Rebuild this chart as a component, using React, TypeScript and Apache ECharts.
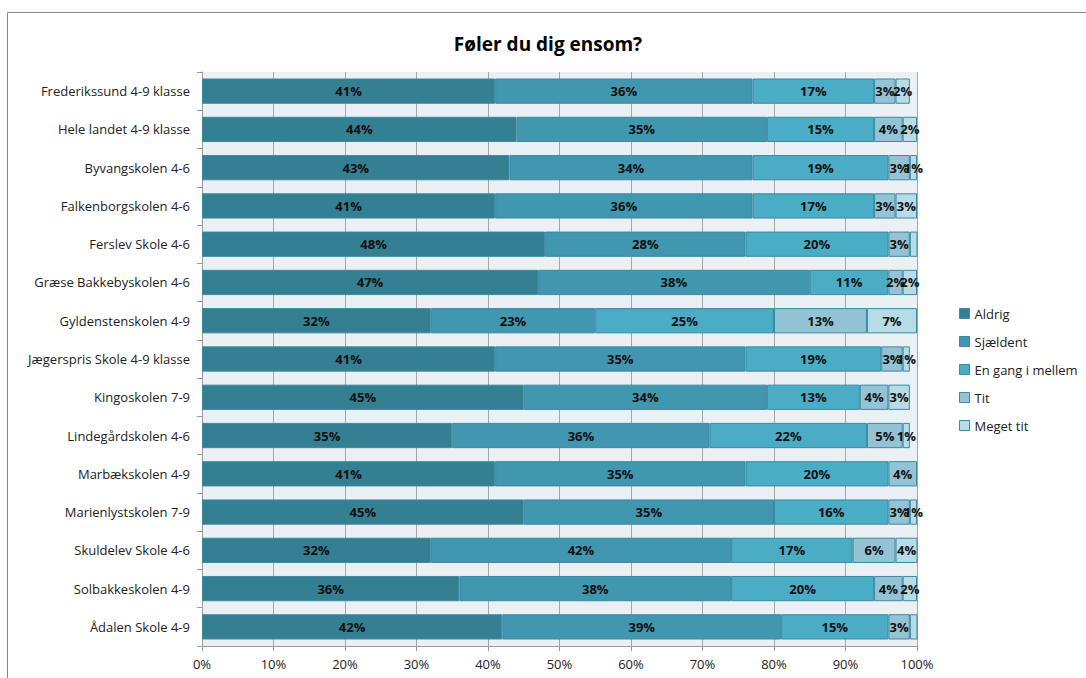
import React, { useEffect, useRef } from "react";
import * as echarts from "echarts";

const categories = [
  "Frederikssund 4-9 klasse",
  "Hele landet 4-9 klasse",
  "Byvangskolen 4-6",
  "Falkenborgskolen 4-6",
  "Ferslev Skole 4-6",
  "Græse Bakkebyskolen 4-6",
  "Gyldenstenskolen 4-9",
  "Jægerspris Skole 4-9 klasse",
  "Kingoskolen 7-9",
  "Lindegårdskolen 4-6",
  "Marbækskolen 4-9",
  "Marienlystskolen 7-9",
  "Skuldelev Skole 4-6",
  "Solbakkeskolen 4-9",
  "Ådalen Skole 4-9",
];

const seriesNames = ["Aldrig", "Sjældent", "En gang i mellem", "Tit", "Meget tit"];

const aldrig = [41, 44, 43, 41, 48, 47, 32, 41, 45, 35, 41, 45, 32, 36, 42];
const sjaeldent = [36, 35, 34, 36, 28, 38, 23, 35, 34, 36, 35, 35, 42, 38, 39];
const enGang = [17, 15, 19, 17, 20, 11, 25, 19, 13, 22, 20, 16, 17, 20, 15];
const tit = [3, 4, 3, 3, 3, 2, 13, 3, 4, 5, 4, 3, 6, 4, 3];
const megetTit = [2, 2, 1, 3, 1.2, 2, 7, 1, 3, 1, 0.4, 1, 4, 2, 1.2];
// segments whose label is not shown in the reference (index per category)
const hiddenMegetTitLabels = [4, 10, 14];

const xTicks = [0, 10, 20, 30, 40, 50, 60, 70, 80, 90, 100];

const colors = ["#357F93", "#4196B0", "#4BACC6", "#93C3D4", "#B7DCE7"];

export default function App() {
  const ref = useRef<HTMLDivElement>(null);

  useEffect(() => {
    if (!ref.current) return;
    const chart = echarts.init(ref.current, undefined, { renderer: "svg" });
    const allData = [aldrig, sjaeldent, enGang, tit, megetTit];
    const series = allData.map((arr, si) => ({
      name: seriesNames[si],
      type: "bar",
      stack: "total",
      barCategoryGap: "34%",
      itemStyle: {
        color: colors[si],
        borderColor: "#3B8AA2",
        borderWidth: 1,
      },
      label: {
        show: true,
        position: "inside",
        formatter: (p: any) => Math.round(p.value) + "%",
        color: "#111",
        fontWeight: "bold",
        fontSize: 13,
        fontFamily: "Open Sans",
      },
      data: arr.map((v, i) =>
        si === 4 && hiddenMegetTitLabels.includes(i)
          ? { value: v, label: { show: false } }
          : v
      ),
    }));

    chart.setOption({
      animation: false,
      backgroundColor: "#ffffff",
      title: {
        text: "Føler du dig ensom?",
        left: 543,
        textAlign: "center",
        top: 29,
        textStyle: {
          fontFamily: "Open Sans",
          fontSize: 19,
          fontWeight: "bold",
          color: "#000",
        },
      },
      graphic: [
        {
          type: "rect",
          shape: { x: 7.5, y: 12.5, width: 1100, height: 700 },
          style: { fill: "none", stroke: "#888", lineWidth: 1 },
          silent: true,
        },
        {
          type: "rect",
          shape: { x: 202, y: 72, width: 715, height: 574 },
          style: { fill: "#EAF0F4" },
          silent: true,
          z: -10,
        },
      ],
      legend: {
        orient: "vertical",
        left: 954,
        top: 302,
        itemWidth: 10,
        itemHeight: 10,
        itemGap: 15,
        icon: "rect",
        textStyle: { fontFamily: "Open Sans", fontSize: 13, color: "#222" },
        data: seriesNames.map((n) => ({
          name: n,
          itemStyle: { borderColor: "#3B8AA2", borderWidth: 1 },
        })),
      },
      grid: { left: 202, right: 169, top: 72, bottom: 32 },
      xAxis: {
        type: "value",
        min: 0,
        max: 100,
        interval: 10,
        axisLine: { show: true, lineStyle: { color: "#999" } },
        axisTick: { show: true, length: 5, lineStyle: { color: "#999" } },
        splitLine: { show: true, lineStyle: { color: "#A6A6A6" } },
        axisLabel: {
          formatter: (v: number) => (xTicks.includes(v) ? v + "%" : ""),
          fontFamily: "Open Sans",
          fontSize: 13,
          color: "#222",
          margin: 11,
        },
      },
      yAxis: {
        type: "category",
        inverse: true,
        data: categories,
        axisLine: { show: true, lineStyle: { color: "#999" } },
        axisTick: { show: true, length: 5, lineStyle: { color: "#999" } },
        axisLabel: {
          fontFamily: "Open Sans",
          fontSize: 13,
          color: "#222",
          margin: 12,
        },
      },
      series,
    });
    return () => chart.dispose();
  }, []);

  return (
    <div
      ref={ref}
      style={{ position: "fixed", left: 0, top: 0, width: 1086, height: 678 }}
    />
  );
}
